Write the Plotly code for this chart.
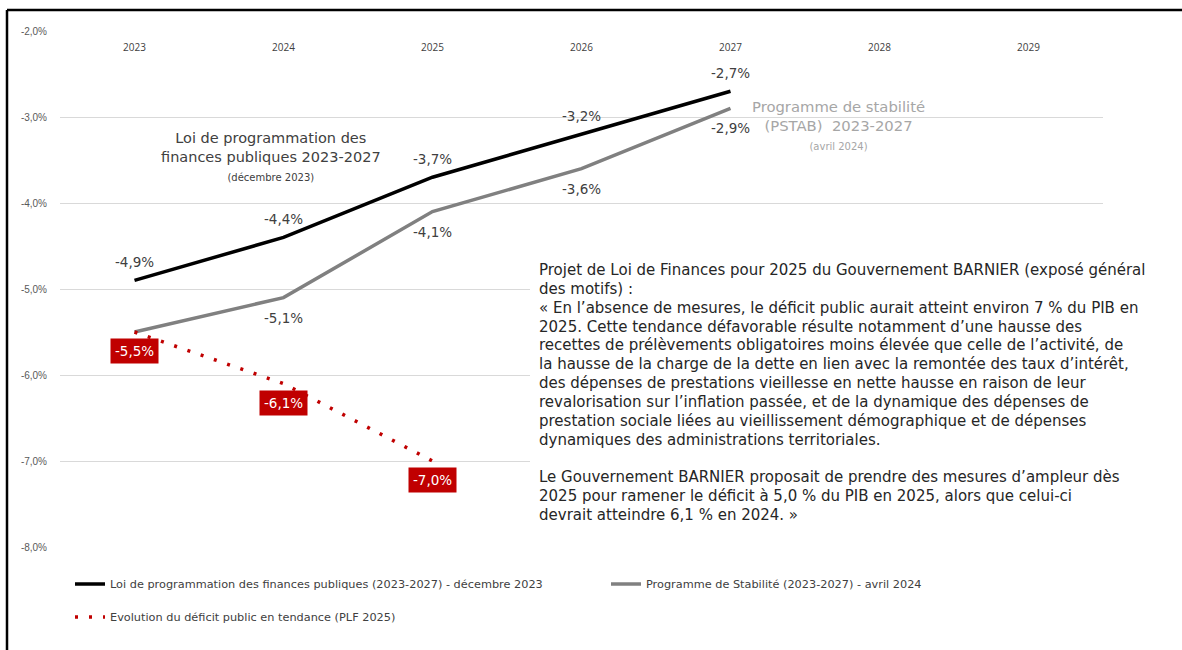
import plotly.graph_objects as go

years = [2023, 2024, 2025, 2026, 2027, 2028, 2029]
year_labels = ["2023", "2024", "2025", "2026", "2027", "2028", "2029"]

lpfp_years = [2023, 2024, 2025, 2026, 2027]
lpfp_values = [-4.9, -4.4, -3.7, -3.2, -2.7]

pstab_years = [2023, 2024, 2025, 2026, 2027]
pstab_values = [-5.5, -5.1, -4.1, -3.6, -2.9]

plf_years = [2023, 2024, 2025]
plf_values = [-5.5, -6.1, -7.0]

y_ticks = [-2.0, -3.0, -4.0, -5.0, -6.0, -7.0, -8.0]
y_tick_labels = ["-2,0%", "-3,0%", "-4,0%", "-5,0%", "-6,0%", "-7,0%", "-8,0%"]

names = [
    "Loi de programmation des finances publiques (2023-2027) - décembre 2023",
    "Programme de Stabilité (2023-2027) - avril 2024",
    "Evolution du déficit public en tendance (PLF 2025)",
]

para_lines = [
    "Projet de Loi de Finances pour 2025 du Gouvernement BARNIER (exposé général",
    "des motifs) :",
    "« En l’absence de mesures, le déficit public aurait atteint environ 7 % du PIB en",
    "2025. Cette tendance défavorable résulte notamment d’une hausse des",
    "recettes de prélèvements obligatoires moins élevée que celle de l’activité, de",
    "la hausse de la charge de la dette en lien avec la remontée des taux d’intérêt,",
    "des dépenses de prestations vieillesse en nette hausse en raison de leur",
    "revalorisation sur l’inflation passée, et de la dynamique des dépenses de",
    "prestation sociale liées au vieillissement démographique et de dépenses",
    "dynamiques des administrations territoriales.",
    "",
    "Le Gouvernement BARNIER proposait de prendre des mesures d’ampleur dès",
    "2025 pour ramener le déficit à 5,0 % du PIB en 2025, alors que celui-ci",
    "devrait atteindre 6,1 % en 2024. »",
]

FONT = "DejaVu Sans"
DARK = "#404040"
RED = "#C00000"

W, H = 1182, 650
L, R, T, B = 60, 79, 31, 103
PW, PH = W - L - R, H - T - B


def px_x(p):
    return (p - L) / PW


def px_y(p):
    return (H - B - p) / PH


def fmt(v):
    return ("%.1f" % v).replace(".", ",") + "%"


fig = go.Figure()
fig.add_trace(go.Scatter(x=lpfp_years, y=lpfp_values, mode="lines", name=names[0],
                         line=dict(color="#000000", width=3.5), legend="legend"))
fig.add_trace(go.Scatter(x=pstab_years, y=pstab_values, mode="lines", name=names[1],
                         line=dict(color="#808080", width=3.5), legend="legend2"))
fig.add_trace(go.Scatter(x=plf_years, y=plf_values, mode="lines", name=names[2],
                         line=dict(color=RED, width=3.5, dash="3px,11px"), legend="legend3"))

annotations = []
for x, lab in zip(years, year_labels):
    annotations.append(dict(x=x, xref="x", yref="paper", y=px_y(47), text=lab,
                            showarrow=False, xanchor="center", yanchor="middle",
                            font=dict(family="Open Sans", size=10, color=DARK)))
for x, v in zip(lpfp_years, lpfp_values):
    annotations.append(dict(x=x, y=v, text=fmt(v), showarrow=False, yshift=18,
                            font=dict(family=FONT, size=13.5, color=DARK)))
for x, v in zip(pstab_years[1:], pstab_values[1:]):
    annotations.append(dict(x=x, y=v, text=fmt(v), showarrow=False, yshift=-20,
                            font=dict(family=FONT, size=13.5, color=DARK)))
for x, v in zip(plf_years, plf_values):
    annotations.append(dict(x=x, y=v, text=fmt(v), showarrow=False, yshift=-19,
                            bgcolor=RED, borderpad=4,
                            font=dict(family=FONT, size=13.5, color="#FFFFFF")))

annotations.append(dict(
    xref="paper", yref="paper", x=px_x(271), y=px_y(156), xanchor="center", yanchor="middle",
    text="Loi de programmation des<br>finances publiques 2023-2027<br><span style='font-size:10px'>(décembre 2023)</span>",
    showarrow=False, align="center", font=dict(family=FONT, size=14.5, color=DARK)))

annotations.append(dict(
    xref="paper", yref="paper", x=px_x(838), y=px_y(125), xanchor="center", yanchor="middle",
    text="Programme de stabilité<br>(PSTAB)  2023-2027<br><span style='font-size:10px'>(avril 2024)</span>",
    showarrow=False, align="center", font=dict(family=FONT, size=14.8, color="#A6A6A6")))

for i, line in enumerate(para_lines):
    if not line:
        continue
    annotations.append(dict(
        xref="paper", yref="paper", x=px_x(537), y=px_y(270 + i * 18.85),
        xanchor="left", yanchor="middle", text=line, showarrow=False, align="left",
        font=dict(family=FONT, size=15, color="#262626")))

fx = px_x(7)
fy = px_y(10)
shapes = [
    dict(type="rect", xref="paper", yref="paper", x0=px_x(530), x1=1.0,
         y0=px_y(526), y1=px_y(259), fillcolor="#FFFFFF", line=dict(width=0), layer="above"),
    dict(type="line", xref="paper", yref="paper", x0=fx, x1=1.2, y0=fy, y1=fy,
         line=dict(color="#000000", width=2.5)),
    dict(type="line", xref="paper", yref="paper", x0=fx, x1=fx, y0=fy, y1=-0.4,
         line=dict(color="#000000", width=2.5)),
]

legend_common = dict(orientation="h", font=dict(family=FONT, size=11.3, color=DARK),
                     bgcolor="rgba(0,0,0,0)", itemwidth=30, yanchor="middle",
                     xanchor="left", xref="container", yref="container")

fig.update_layout(
    width=W, height=H,
    margin=dict(l=L, r=R, t=T, b=B, autoexpand=False),
    paper_bgcolor="#FFFFFF", plot_bgcolor="#FFFFFF",
    showlegend=True,
    legend=dict(x=70 / W, y=1 - 584 / H, **legend_common),
    legend2=dict(x=606 / W, y=1 - 584 / H, **legend_common),
    legend3=dict(x=70 / W, y=1 - 617 / H, **legend_common),
    xaxis=dict(range=[2022.5, 2029.5], showticklabels=False, automargin=False,
               showgrid=False, zeroline=False, showline=False, ticks=""),
    yaxis=dict(range=[-8, -2], tickvals=y_ticks, ticktext=y_tick_labels,
               showgrid=True, gridcolor="#D9D9D9", gridwidth=1, zeroline=False,
               showline=False, ticks="", ticklabelstandoff=12, automargin=False,
               tickfont=dict(family="Liberation Sans", size=10, color="#595959")),
    annotations=annotations,
    shapes=shapes,
)

fig.write_html("out.html", config={"displayModeBar": False},
               post_script="document.body.style.margin='0';")
